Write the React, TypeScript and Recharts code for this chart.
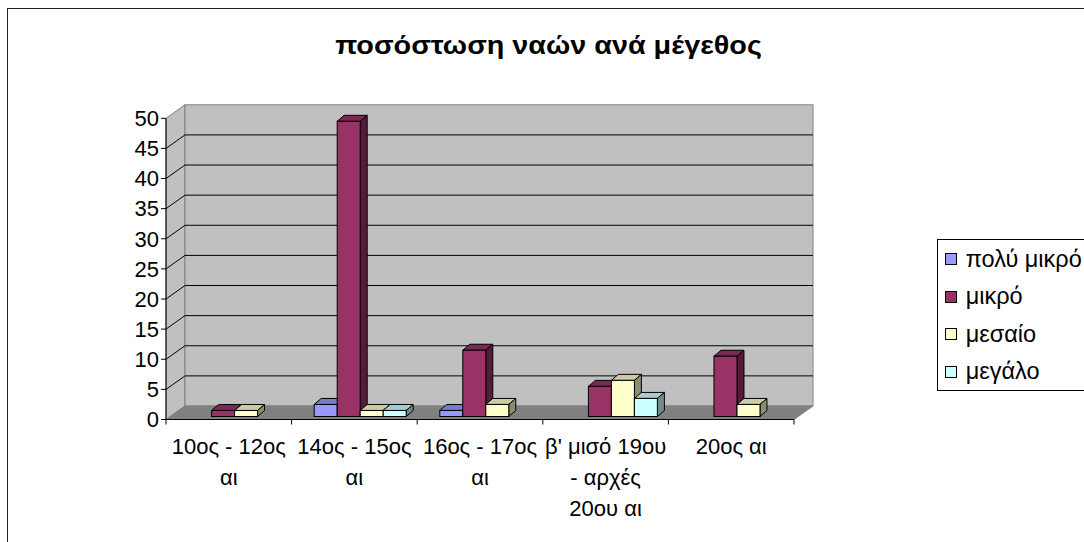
import { BarChart, Bar, XAxis, YAxis, CartesianGrid, ReferenceArea, Legend } from "recharts";

const categories = [
  "10ος - 12ος αι",
  "14ος - 15ος αι",
  "16ος - 17ος αι",
  "β' μισό 19ου - αρχές 20ου αι",
  "20ος αι",
];
// how the tick labels break into lines in the original
const categoryLines = [
  ["10ος - 12ος", "αι"],
  ["14ος - 15ος", "αι"],
  ["16ος - 17ος", "αι"],
  ["β' μισό 19ου", "- αρχές", "20ου αι"],
  ["20ος αι"],
];

const polyMikro = [0, 2, 1, 0, 0];
const mikro = [1, 49, 11, 5, 10];
const mesaio = [1, 1, 2, 6, 2];
const megalo = [0, 1, 0, 3, 0];

const yTicks = [0, 5, 10, 15, 20, 25, 30, 35, 40, 45, 50];

const series = [
  { key: "polyMikro", name: "πολύ μικρό", color: "#9999FF" },
  { key: "mikro", name: "μικρό", color: "#993366" },
  { key: "mesaio", name: "μεσαίο", color: "#FFFFCC" },
  { key: "megalo", name: "μεγάλο", color: "#CCFFFF" },
];

const data = categories.map((c, i) => ({
  category: c,
  polyMikro: polyMikro[i],
  mikro: mikro[i],
  mesaio: mesaio[i],
  megalo: megalo[i],
}));

const FONT = "'Liberation Sans', Arial, sans-serif";

// 3d depth of the walls and of the bars
const WDX = 19;
const WDY = -13.5;
const FDX = 5;
const FDY = -3;
const BDX = 7;
const BDY = -6;

function shade(hex: string, k: number) {
  const n = parseInt(hex.slice(1), 16);
  const r = Math.round(((n >> 16) & 255) * k);
  const g = Math.round(((n >> 8) & 255) * k);
  const b = Math.round((n & 255) * k);
  return `rgb(${r},${g},${b})`;
}

function Bar3D(props: any) {
  const { x, y, width, height, fill } = props;
  if (!height || height <= 0.5) return null;
  const fx = x + FDX;
  const fy = y + FDY;
  const w = width;
  const h = height;
  return (
    <g>
      <path
        d={`M${fx},${fy}L${fx + BDX},${fy + BDY}L${fx + w + BDX},${fy + BDY}L${fx + w},${fy}Z`}
        fill={shade(fill, 0.8)}
        stroke="#000"
        strokeWidth={1}
      />
      <path
        d={`M${fx + w},${fy}L${fx + w + BDX},${fy + BDY}L${fx + w + BDX},${fy + h + BDY}L${fx + w},${fy + h}Z`}
        fill={shade(fill, 0.55)}
        stroke="#000"
        strokeWidth={1}
      />
      <rect x={fx} y={fy} width={w} height={h} fill={fill} stroke="#000" strokeWidth={1} />
    </g>
  );
}

function Walls(props: any) {
  const { x, y, width, height } = props;
  const x1 = x + width;
  const y1 = y + height;
  return (
    <g>
      <path
        d={`M${x},${y}L${x + WDX},${y + WDY}L${x + WDX},${y1 + WDY}L${x},${y1}Z`}
        fill="#C0C0C0"
        stroke="#808080"
      />
      <rect x={x + WDX} y={y + WDY} width={width} height={height} fill="#C0C0C0" stroke="#808080" />
      <path
        d={`M${x},${y1}L${x + WDX},${y1 + WDY}L${x1 + WDX},${y1 + WDY}L${x1},${y1}Z`}
        fill="#808080"
        stroke="#808080"
      />
    </g>
  );
}

function gridLine(p: any) {
  const yy = p.y1;
  if (typeof p.y === "number" && typeof p.height === "number") {
    if (Math.abs(yy - p.y) < 1 || Math.abs(yy - (p.y + p.height)) < 1) return <g key={p.key} />;
  }
  return (
    <path
      key={p.key}
      d={`M${p.x1},${yy}L${p.x1 + WDX},${yy + WDY}L${p.x2 + WDX},${yy + WDY}`}
      stroke="#000"
      strokeWidth={1}
      fill="none"
    />
  );
}

function CategoryTick(props: any) {
  const { x, y, payload } = props;
  const idx = categories.indexOf(payload.value);
  const half = typeof payload.offset === "number" && payload.offset > 0 ? payload.offset : 62.8;
  const lines = categoryLines[idx] || [String(payload.value)];
  return (
    <g>
      <line x1={x - half} y1={y} x2={x - half} y2={y + 5} stroke="#000" />
      {idx === categories.length - 1 && (
        <line x1={x + half} y1={y} x2={x + half} y2={y + 5} stroke="#000" />
      )}
      <text x={x} y={y + 26.5} textAnchor="middle" fontSize={22} fill="#000" fontFamily={FONT}>
        {lines.map((l, i) => (
          <tspan key={i} x={x} dy={i === 0 ? "0.35em" : 31}>
            {l}
          </tspan>
        ))}
      </text>
    </g>
  );
}

function LegendBox(props: any) {
  const colorOf: Record<string, string> = {};
  (props.payload || []).forEach((p: any) => {
    colorOf[p.value] = p.color;
  });
  return (
    <div
      style={{
        border: "1px solid #000",
        background: "#fff",
        width: 170,
        boxSizing: "border-box",
        fontFamily: FONT,
        fontSize: 23.5,
        color: "#000",
      }}
    >
      {series.map((s) => (
        <div key={s.key} style={{ height: 37.5, display: "flex", alignItems: "center" }}>
          <span
            style={{
              display: "inline-block",
              width: 10,
              height: 10,
              marginLeft: 7,
              marginRight: 9,
              border: "1px solid #000",
              background: colorOf[s.name] || s.color,
            }}
          />
          <span style={{ whiteSpace: "nowrap" }}>{s.name}</span>
        </div>
      ))}
    </div>
  );
}

export default function App() {
  return (
    <>
      <style>{"body{margin:0}"}</style>
      <div
        style={{
          position: "absolute",
          left: 7,
          top: 8,
          width: 1076,
          height: 533,
          borderLeft: "1px solid #222",
          borderTop: "1px solid #222",
          overflow: "hidden",
          background: "#fff",
        }}
      >
        <div
          style={{
            position: "absolute",
            left: 0,
            top: 24,
            width: 1081,
            textAlign: "center",
            fontFamily: FONT,
            fontWeight: "bold",
            fontSize: 25,
            lineHeight: "25px",
            color: "#000",
            transform: "scaleX(1.15)",
            transformOrigin: "540.5px 0",
            zIndex: 2,
          }}
        >
          ποσόστωση ναών ανά μέγεθος
        </div>
        <BarChart
          width={1076}
          height={533}
          data={data}
          margin={{ top: 109.3, right: 290, bottom: 12.5, left: 98 }}
          barCategoryGap="14%"
          barGap={0}
          style={{ fontFamily: FONT }}
        >
          <ReferenceArea y1={0} y2={50} shape={Walls} zIndex={-200} ifOverflow="visible" />
          <CartesianGrid vertical={false} horizontal={gridLine} zIndex={-100} />
          <XAxis
            dataKey="category"
            height={110}
            interval={0}
            axisLine={{ stroke: "#000" }}
            tickLine={false}
            tickSize={0}
            tickMargin={0}
            tick={CategoryTick}
          />
          <YAxis
            width={60}
            domain={[0, 50]}
            ticks={yTicks}
            interval={0}
            axisLine={{ stroke: "#000" }}
            tickLine={{ stroke: "#000" }}
            tickSize={5}
            tickMargin={2}
            tick={{ fontSize: 22, fill: "#000", fontFamily: FONT }}
          />
          {series.map((s) => (
            <Bar
              key={s.key}
              dataKey={s.key}
              name={s.name}
              fill={s.color}
              shape={Bar3D}
              isAnimationActive={false}
            />
          ))}
          <Legend
            layout="horizontal"
            verticalAlign="middle"
            align="center"
            content={LegendBox}
            wrapperStyle={{ left: 928.7, top: 230.3, width: 170 }}
          />
        </BarChart>
      </div>
    </>
  );
}
